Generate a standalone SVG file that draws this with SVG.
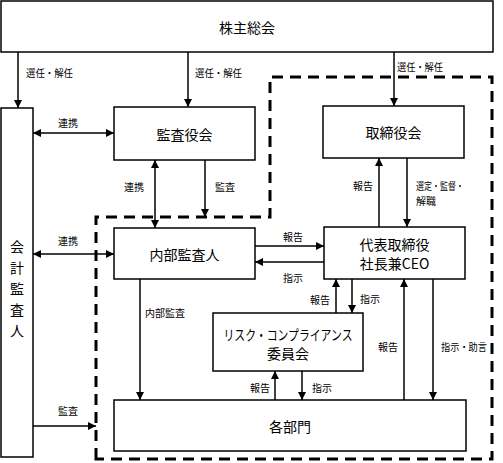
<svg xmlns="http://www.w3.org/2000/svg" width="503" height="463" viewBox="0 0 503 463">
<defs>
<marker id="ah" viewBox="0 0 10 10" markerWidth="8" markerHeight="8" refX="10" refY="5" orient="auto-start-reverse" markerUnits="userSpaceOnUse">
<path d="M0,0 L10,5 L0,10 z" fill="#000"/>
</marker>
<style>
.box{fill:#fff;stroke:#000;stroke-width:1.5}
.t{font-family:"Noto Sans CJK JP","Noto Sans",sans-serif;font-size:14px;text-anchor:middle;dominant-baseline:central;fill:#000}
.l{font-family:"Noto Sans CJK JP","Noto Sans",sans-serif;font-size:10px;dominant-baseline:central;fill:#000}
.c{stroke:#000;stroke-width:1.5;fill:none}
.a{marker-end:url(#ah)}
.b{marker-start:url(#ah);marker-end:url(#ah)}
.dash{fill:none;stroke:#000;stroke-width:3;stroke-dasharray:11 7}
</style>
</defs>
<rect width="503" height="463" fill="#fff"/>
<path class="dash" d="M96,459 L96,217 L270,217 L270,77 L492,77 L492,459 Z"/>
<g id="shareholders"><rect class="box" x="1" y="1" width="492" height="51"/><text class="t" x="247" y="27">株主総会</text></g>
<g id="auditor"><rect class="box" x="1" y="108" width="32" height="349"/>
<text class="t" x="17" y="246">会</text><text class="t" x="17" y="267">計</text><text class="t" x="17" y="288">監</text><text class="t" x="17" y="309">査</text><text class="t" x="17" y="330">人</text></g>
<g id="kansayaku"><rect class="box" x="114" y="107" width="141" height="53"/><text class="t" x="184.500" y="134">監査役会</text></g>
<g id="torishimariyaku"><rect class="box" x="323" y="106" width="141" height="52"/><text class="t" x="393.500" y="132">取締役会</text></g>
<g id="naibu"><rect class="box" x="114" y="228" width="141" height="51"/><text class="t" x="184.500" y="254">内部監査人</text></g>
<g id="ceo"><rect class="box" x="324" y="227" width="141" height="52"/><text class="t" x="394.500" y="244">代表取締役</text><text class="t" x="394.500" y="263">社長兼CEO</text></g>
<g id="risk"><rect class="box" x="213" y="313" width="150" height="58"/><text class="t" x="288" y="334" textLength="129" lengthAdjust="spacingAndGlyphs">リスク・コンプライアンス</text><text class="t" x="288" y="353">委員会</text></g>
<g id="depts"><rect class="box" x="114" y="400" width="352" height="51"/><text class="t" x="290" y="426">各部門</text></g>
<g id="connectors">
<line class="c a" x1="18" y1="52" x2="18" y2="108"/>
<line class="c a" x1="188" y1="52" x2="188" y2="107"/>
<line class="c a" x1="394" y1="52" x2="394" y2="106"/>
<line class="c b" x1="33" y1="133" x2="114" y2="133"/>
<line class="c b" x1="155" y1="160" x2="155" y2="228"/>
<line class="c a" x1="205" y1="160" x2="205" y2="217"/>
<line class="c b" x1="33" y1="254" x2="114" y2="254"/>
<line class="c a" x1="140" y1="279" x2="140" y2="400"/>
<line class="c a" x1="33" y1="426" x2="96" y2="426"/>
<line class="c a" x1="379" y1="227" x2="379" y2="158"/>
<line class="c a" x1="407" y1="158" x2="407" y2="227"/>
<line class="c a" x1="255" y1="246" x2="324" y2="246"/>
<line class="c a" x1="324" y1="262" x2="255" y2="262"/>
<line class="c a" x1="336" y1="313" x2="336" y2="279"/>
<line class="c a" x1="352" y1="279" x2="352" y2="313"/>
<line class="c a" x1="275" y1="400" x2="275" y2="371"/>
<line class="c a" x1="302" y1="371" x2="302" y2="400"/>
<line class="c a" x1="404" y1="400" x2="404" y2="279"/>
<line class="c a" x1="433" y1="279" x2="433" y2="400"/>
<text class="l" x="26" y="72" textLength="47" lengthAdjust="spacingAndGlyphs">選任・解任</text>
<text class="l" x="195" y="72" textLength="47" lengthAdjust="spacingAndGlyphs">選任・解任</text>
<text class="l" x="397" y="66" textLength="46" lengthAdjust="spacingAndGlyphs">選任・解任</text>
<text class="l" x="58" y="122">連携</text>
<text class="l" x="124" y="186">連携</text>
<text class="l" x="215" y="186">監査</text>
<text class="l" x="58" y="240">連携</text>
<text class="l" x="145" y="312">内部監査</text>
<text class="l" x="58" y="410">監査</text>
<text class="l" x="353" y="185">報告</text>
<text class="l" x="416" y="185" textLength="48" lengthAdjust="spacingAndGlyphs">選定・監督・</text>
<text class="l" x="416" y="200">解職</text>
<text class="l" x="283" y="236">報告</text>
<text class="l" x="283" y="277">指示</text>
<text class="l" x="310" y="299">報告</text>
<text class="l" x="360" y="298">指示</text>
<text class="l" x="250" y="387">報告</text>
<text class="l" x="312" y="387">指示</text>
<text class="l" x="378" y="346">報告</text>
<text class="l" x="441" y="346" textLength="46" lengthAdjust="spacingAndGlyphs">指示・助言</text>
</g>
</svg>
